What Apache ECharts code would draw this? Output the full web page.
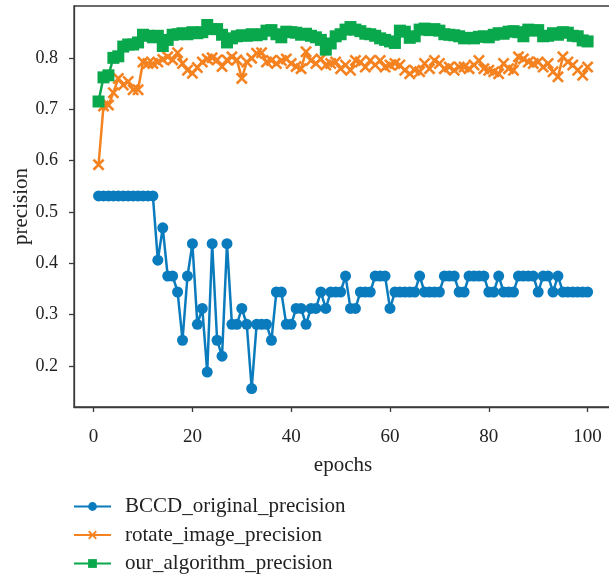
<!DOCTYPE html>
<html>
<head>
<meta charset="utf-8">
<script src="https://cdn.jsdelivr.net/npm/echarts@6/dist/echarts.min.js"></script>
<style>
  html, body { margin: 0; padding: 0; background: #fff; }
  #chart { width: 609px; height: 580px; }
</style>
</head>
<body>
<div id="chart"></div>
<script>
// epochs 1..100
const epochs = Array.from({ length: 100 }, (_, i) => i + 1);

const bccdOriginal = [
  0.531, 0.531, 0.531, 0.531, 0.531, 0.531, 0.531, 0.531, 0.531, 0.531,
  0.531, 0.531, 0.406, 0.469, 0.375, 0.375, 0.344, 0.25, 0.375, 0.438,
  0.281, 0.312, 0.188, 0.438, 0.25, 0.219, 0.438, 0.281, 0.281, 0.312,
  0.281, 0.156, 0.281, 0.281, 0.281, 0.25, 0.344, 0.344, 0.281, 0.281,
  0.312, 0.312, 0.281, 0.312, 0.312, 0.344, 0.312, 0.344, 0.344, 0.344,
  0.375, 0.312, 0.312, 0.344, 0.344, 0.344, 0.375, 0.375, 0.375, 0.312,
  0.344, 0.344, 0.344, 0.344, 0.344, 0.375, 0.344, 0.344, 0.344, 0.344,
  0.375, 0.375, 0.375, 0.344, 0.344, 0.375, 0.375, 0.375, 0.375, 0.344,
  0.344, 0.375, 0.344, 0.344, 0.344, 0.375, 0.375, 0.375, 0.375, 0.344,
  0.375, 0.375, 0.344, 0.375, 0.344, 0.344, 0.344, 0.344, 0.344, 0.344,
];

const rotateImage = [
  0.592, 0.706, 0.708, 0.732, 0.760, 0.747, 0.754, 0.738, 0.738, 0.792,
  0.789, 0.789, 0.792, 0.797, 0.802, 0.796, 0.810, 0.789, 0.776, 0.770,
  0.781, 0.792, 0.798, 0.800, 0.796, 0.783, 0.796, 0.802, 0.796, 0.760,
  0.792, 0.799, 0.809, 0.810, 0.792, 0.795, 0.789, 0.795, 0.798, 0.789,
  0.783, 0.779, 0.812, 0.795, 0.789, 0.798, 0.786, 0.789, 0.792, 0.779,
  0.786, 0.776, 0.795, 0.792, 0.782, 0.795, 0.786, 0.795, 0.782, 0.786,
  0.789, 0.786, 0.776, 0.769, 0.776, 0.773, 0.789, 0.779, 0.795, 0.789,
  0.779, 0.782, 0.776, 0.782, 0.782, 0.779, 0.786, 0.795, 0.779, 0.776,
  0.773, 0.769, 0.789, 0.779, 0.776, 0.802, 0.798, 0.792, 0.789, 0.792,
  0.782, 0.789, 0.773, 0.763, 0.802, 0.792, 0.786, 0.776, 0.766, 0.782,
];

const ourAlgorithm = [
  0.715, 0.762, 0.766, 0.800, 0.803, 0.822, 0.826, 0.826, 0.830, 0.845,
  0.843, 0.840, 0.843, 0.823, 0.835, 0.845, 0.846, 0.848, 0.846, 0.850,
  0.848, 0.850, 0.864, 0.856, 0.856, 0.845, 0.830, 0.838, 0.842, 0.844,
  0.843, 0.846, 0.844, 0.846, 0.853, 0.854, 0.846, 0.840, 0.851, 0.850,
  0.849, 0.845, 0.847, 0.843, 0.840, 0.835, 0.816, 0.828, 0.842, 0.846,
  0.855, 0.860, 0.855, 0.852, 0.847, 0.846, 0.843, 0.838, 0.835, 0.832,
  0.829, 0.853, 0.851, 0.839, 0.842, 0.855, 0.857, 0.854, 0.856, 0.853,
  0.846, 0.845, 0.844, 0.842, 0.838, 0.839, 0.838, 0.841, 0.842, 0.840,
  0.845, 0.848, 0.847, 0.851, 0.852, 0.850, 0.842, 0.855, 0.853, 0.854,
  0.842, 0.843, 0.848, 0.845, 0.850, 0.849, 0.843, 0.842, 0.834, 0.832,
];

const xTicks = [0, 20, 40, 60, 80, 100];
const yTicks = [0.2, 0.3, 0.4, 0.5, 0.6, 0.7, 0.8];

const FONT = "Liberation Serif";
const AXIS_COLOR = "#3a3a3a";
const X_MARK = "path://M0,1.5L1.5,0L5,3.5L8.5,0L10,1.5L6.5,5L10,8.5L8.5,10L5,6.5L1.5,10L0,8.5L3.5,5Z";

function pairs(values) {
  return epochs.map((e, i) => [e, values[i]]);
}

function lineSeries(name, values, color, symbol, size) {
  return {
    name: name,
    type: "line",
    data: pairs(values),
    symbol: symbol,
    symbolSize: size,
    showAllSymbol: true,
    lineStyle: { color: color, width: 2.5 },
    itemStyle: { color: color },
    emphasis: { disabled: true },
  };
}

const chart = echarts.init(document.getElementById("chart"), null, { renderer: "canvas" });

chart.setOption({
  animation: false,
  backgroundColor: "#fff",
  textStyle: { fontFamily: FONT },
  grid: {
    left: 74,
    top: 6,
    width: 538,
    height: 401,
    outerBoundsMode: "none",
    containLabel: false,
    show: true,
    borderColor: AXIS_COLOR,
    borderWidth: 1.3,
    backgroundColor: "transparent",
  },
  legend: {
    orient: "vertical",
    left: 73,
    top: 496,
    height: 90,
    padding: 0,
    itemWidth: 37,
    itemHeight: 11,
    itemGap: 7.5,
    textStyle: {
      fontFamily: FONT,
      fontSize: 21,
      color: "#222",
      lineHeight: 21,
      padding: [0, 0, 0, 9],
    },
    data: ["BCCD_original_precision", "rotate_image_precision", "our_algorithm_precision"],
  },
  xAxis: {
    type: "value",
    min: -3.97,
    max: 104.94,
    name: "epochs",
    nameLocation: "middle",
    nameGap: 48,
    nameMoveOverlap: false,
    nameTextStyle: { fontFamily: FONT, fontSize: 21, color: "#222" },
    axisLine: { onZero: false, lineStyle: { color: AXIS_COLOR, width: 1.3 } },
    axisTick: { show: true, length: 5, inside: false, customValues: xTicks, lineStyle: { color: AXIS_COLOR, width: 1.3 } },
    axisLabel: { customValues: xTicks, margin: 21, fontFamily: FONT, fontSize: 19, color: "#222" },
    splitLine: { show: false },
  },
  yAxis: {
    type: "value",
    min: 0.12,
    max: 0.901,
    name: "precision",
    nameLocation: "middle",
    nameGap: 42,
    nameRotate: 90,
    nameMoveOverlap: false,
    nameTextStyle: { fontFamily: FONT, fontSize: 21, color: "#222" },
    axisLine: { show: true, onZero: false, lineStyle: { color: AXIS_COLOR, width: 1.3 } },
    axisTick: { show: true, length: 5, inside: false, customValues: yTicks, lineStyle: { color: AXIS_COLOR, width: 1.3 } },
    axisLabel: {
      customValues: yTicks,
      margin: 16,
      fontFamily: FONT,
      fontSize: 18,
      color: "#222",
      formatter: (v) => v.toFixed(1),
    },
    splitLine: { show: false },
  },
  series: [
    lineSeries("BCCD_original_precision", bccdOriginal, "#0a7bbd", "circle", 11),
    lineSeries("rotate_image_precision", rotateImage, "#f58220", X_MARK, 12),
    lineSeries("our_algorithm_precision", ourAlgorithm, "#0aa84c", "rect", 12),
  ],
});
</script>
</body>
</html>
